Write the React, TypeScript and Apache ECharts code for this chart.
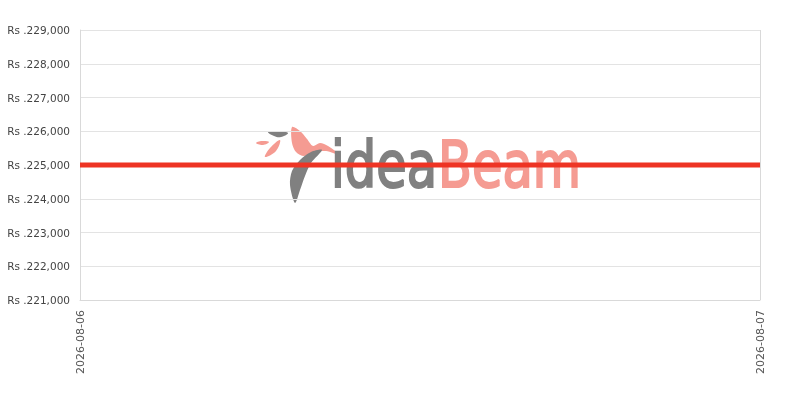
import { useEffect, useRef } from "react";
import * as echarts from "echarts";

const dates = ["2026-08-06", "2026-08-07"];
const prices = [225000, 225000];
const yMin = 221000;
const yMax = 229000;
const yStep = 1000;

const grey = "#808080";
const salmon = "#f59b92";

export default function App() {
  const ref = useRef<HTMLDivElement | null>(null);

  useEffect(() => {
    if (!ref.current) return;
    const chart = echarts.init(ref.current, null, { renderer: "svg" });
    chart.setOption({
      animation: false,
      grid: { left: 80, right: 40, top: 30, bottom: 100 },
      xAxis: {
        type: "category",
        data: dates,
        boundaryGap: false,
        axisLine: { lineStyle: { color: "#d9d9d9" } },
        axisTick: { show: false },
        axisLabel: { rotate: 90, color: "#555", fontSize: 11, fontFamily: "DejaVu Sans", margin: 10 },
        splitLine: { show: true, lineStyle: { color: "#d9d9d9" } },
      },
      yAxis: {
        type: "value",
        min: yMin,
        max: yMax,
        interval: yStep,
        axisLine: { show: true, lineStyle: { color: "#d9d9d9" } },
        axisTick: { show: false },
        axisLabel: {
          color: "#444",
          fontSize: 10.5,
          fontFamily: "DejaVu Sans",
          margin: 10,
          formatter: (v: number) => "Rs ." + v.toLocaleString("en-US"),
        },
        splitLine: { lineStyle: { color: "#e3e3e3" } },
      },
      graphic: [
        {
          type: "group",
          z: -1,
          silent: true,
          children: [
            // small leaves
            { type: "polygon", shape: { points: [[256, 143], [262, 141], [269, 142], [263, 145]], smooth: 0.4 }, style: { fill: salmon } },
            { type: "polygon", shape: { points: [[265, 157], [270, 148], [280, 140], [276, 151]], smooth: 0.4 }, style: { fill: salmon } },
            { type: "polygon", shape: { points: [[268, 132], [278, 131], [288, 133], [281, 137], [274, 136]], smooth: 0.4 }, style: { fill: grey } },
            // bird
            {
              type: "polygon",
              shape: {
                points: [[292, 127], [300, 131], [307, 139], [313, 146], [320, 143], [328, 146], [340, 155], [326, 151], [316, 152], [304, 156], [296, 152], [292, 143]],
                smooth: 0.3,
              },
              style: { fill: salmon },
            },
            // feather
            {
              type: "polygon",
              shape: {
                points: [[322, 150], [311, 152], [300, 160], [292, 171], [290, 185], [295, 203], [300, 190], [305, 176], [311, 163]],
                smooth: 0.3,
              },
              style: { fill: grey },
            },
            { type: "text", x: 331, y: 165, scaleX: 0.86, style: { text: "idea", fill: grey, stroke: grey, lineWidth: 2, font: "64px 'DejaVu Sans Condensed'", verticalAlign: "middle" } },
            { type: "text", x: 438, y: 165, scaleX: 0.86, style: { text: "Beam", fill: salmon, stroke: salmon, lineWidth: 2, font: "64px 'DejaVu Sans Condensed'", verticalAlign: "middle" } },
          ],
        },
      ],
      series: [
        {
          type: "line",
          data: prices,
          showSymbol: false,
          lineStyle: { color: "#ee3424", width: 5 },
          z: 5,
        },
      ],
    });
    return () => chart.dispose();
  }, []);

  return <div ref={ref} style={{ width: 800, height: 400, position: "fixed", left: 0, top: 0 }} />;
}
